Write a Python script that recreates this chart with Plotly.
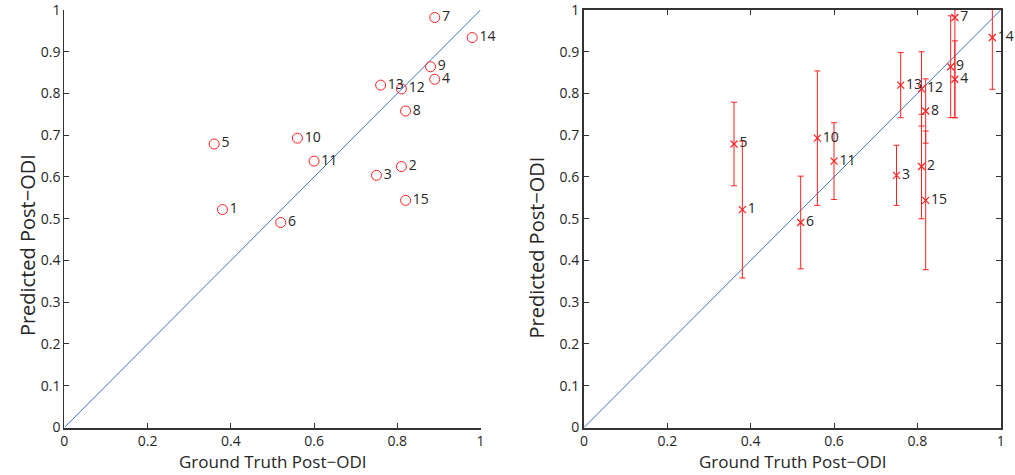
import plotly.graph_objects as go

labels = [str(i) for i in range(1, 16)]
ground_truth = [0.38, 0.81, 0.75, 0.89, 0.36, 0.52, 0.89, 0.82, 0.88, 0.56, 0.60, 0.81, 0.76, 0.98, 0.82]
predicted = [0.522, 0.625, 0.604, 0.834, 0.679, 0.491, 0.982, 0.758, 0.864, 0.693, 0.638, 0.811, 0.820, 0.934, 0.544]
pred_err = [0.164, 0.125, 0.072, 0.092, 0.100, 0.111, 0.240, 0.077, 0.122, 0.161, 0.092, 0.089, 0.078, 0.124, 0.166]

x_ticks = [0, 0.2, 0.4, 0.6, 0.8, 1]
x_tick_text = ["0", "0.2", "0.4", "0.6", "0.8", "1"]
y_ticks = [0, 0.1, 0.2, 0.3, 0.4, 0.5, 0.6, 0.7, 0.8, 0.9, 1]
y_tick_text = ["0", "0.1", "0.2", "0.3", "0.4", "0.5", "0.6", "0.7", "0.8", "0.9", "1"]
diag = [0, 1]
x_title = "Ground Truth Post−ODI"
y_title = "Predicted Post−ODI"

FONT = "Open Sans"
RED = "#ff2020"
BLUE = "#3f6fc4"
TXT = "#262626"

fig = go.Figure()

# left: diagonal + circles
fig.add_trace(go.Scatter(x=diag, y=diag, mode="lines", line=dict(color=BLUE, width=1),
                         xaxis="x", yaxis="y", showlegend=False, hoverinfo="skip"))
fig.add_trace(go.Scatter(x=ground_truth, y=predicted, mode="markers+text", text=labels,
                         textposition="middle right",
                         textfont=dict(family=FONT, size=14, color=TXT),
                         marker=dict(symbol="circle-open", size=10, color=RED, line=dict(width=1, color=RED)),
                         xaxis="x", yaxis="y", showlegend=False, cliponaxis=False))

# right: diagonal + error bars
fig.add_trace(go.Scatter(x=diag, y=diag, mode="lines", line=dict(color=BLUE, width=1),
                         xaxis="x2", yaxis="y2", showlegend=False, hoverinfo="skip"))
fig.add_trace(go.Scatter(x=ground_truth, y=predicted, mode="markers+text", text=labels,
                         textposition="middle right",
                         textfont=dict(family=FONT, size=14, color=TXT),
                         marker=dict(symbol="x-thin-open", size=7, color=RED, line=dict(width=1.2, color=RED)),
                         error_y=dict(type="data", array=pred_err, visible=True, color=RED, thickness=1, width=3),
                         xaxis="x2", yaxis="y2", showlegend=False, cliponaxis=False))

axis_common = dict(range=[0, 1], ticks="inside", ticklen=5, tickcolor="#333", showgrid=False,
                   zeroline=False, tickfont=dict(family=FONT, size=14, color=TXT),
                   linecolor="#333", automargin=False, ticklabeloverflow="allow")

xt_font = dict(family=FONT, size=17, color=TXT)
yt_font = dict(family=FONT, size=20, color=TXT)

fig.update_layout(
    width=1015, height=475,
    margin=dict(l=0, r=0, t=0, b=0, autoexpand=False),
    paper_bgcolor="white", plot_bgcolor="white",
    xaxis=dict(domain=[0.0634, 0.4734], anchor="y", tickvals=x_ticks, ticktext=x_tick_text,
               showline=True, linewidth=1.5, mirror=False, **axis_common),
    yaxis=dict(domain=[0.1, 0.979], anchor="x", tickvals=y_ticks, ticktext=y_tick_text,
               showline=True, linewidth=1, mirror=False, **axis_common),
    xaxis2=dict(domain=[0.5754, 0.9859], anchor="y2", tickvals=x_ticks, ticktext=x_tick_text,
                showline=True, linewidth=2, mirror="ticks", **axis_common),
    yaxis2=dict(domain=[0.1, 0.979], anchor="x2", tickvals=y_ticks, ticktext=y_tick_text,
                showline=True, linewidth=2, mirror="ticks", **axis_common),
    annotations=[
        dict(text=x_title, xref="paper", yref="paper", x=0.2685, y=0.029, xanchor="center", yanchor="middle",
             showarrow=False, font=xt_font),
        dict(text=x_title, xref="paper", yref="paper", x=0.7806, y=0.029, xanchor="center", yanchor="middle",
             showarrow=False, font=xt_font),
        dict(text=y_title, xref="paper", yref="paper", x=0.0266, y=0.484, xanchor="center", yanchor="middle",
             textangle=-90, showarrow=False, font=yt_font),
        dict(text=y_title, xref="paper", yref="paper", x=0.5286, y=0.478, xanchor="center", yanchor="middle",
             textangle=-90, showarrow=False, font=yt_font),
    ],
)

fig.write_html("out.html")
